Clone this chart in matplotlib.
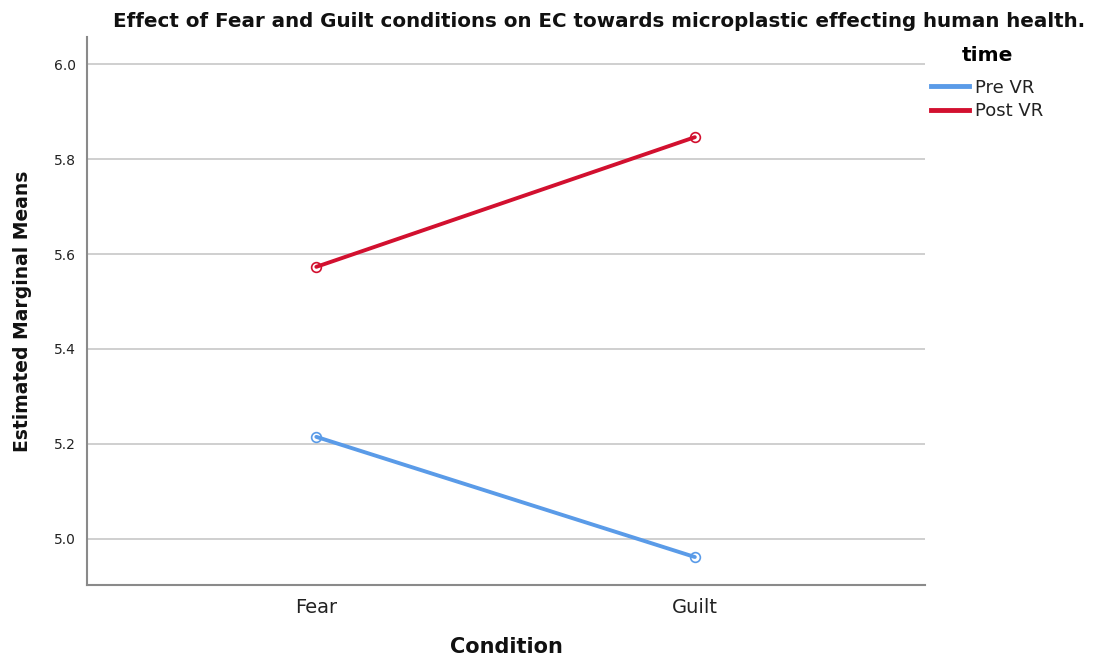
import matplotlib.pyplot as plt
from matplotlib.lines import Line2D

# data
conditions = ["Fear", "Guilt"]
pre_vr = [5.215, 4.962]
post_vr = [5.573, 5.846]
series_names = ["Pre VR", "Post VR"]
yticks = [5.0, 5.2, 5.4, 5.6, 5.8, 6.0]

blue = "#5a9be8"
red = "#d2102f"

fig = plt.figure(figsize=(11.12, 6.58), dpi=100)
ax = fig.add_axes([0.0782, 0.1109, 0.7536, 0.8329])

x = list(range(len(conditions)))
for vals, col in [(pre_vr, blue), (post_vr, red)]:
    ax.plot(x, vals, color=col, linewidth=2.8, solid_capstyle="round", zorder=3)
    ax.plot(x, vals, linestyle="none", marker="o", markersize=7, fillstyle="none",
            markeredgecolor=col, markeredgewidth=1.2, zorder=4)

ax.set_xlim(-0.606, 1.608)
ax.set_ylim(4.903, 6.057)
ax.set_xticks(x)
ax.set_xticklabels(conditions, fontsize=14, color="#222222")
ax.set_yticks(yticks)
ax.set_yticklabels([f"{v:.1f}" for v in yticks], fontsize=10, color="#222222")
ax.tick_params(length=0, pad=8)
ax.tick_params(axis="x", pad=9)
ax.grid(axis="y", color="#cccccc", linewidth=1.3)
ax.set_axisbelow(True)
for s in ["top", "right"]:
    ax.spines[s].set_visible(False)
for s in ["left", "bottom"]:
    ax.spines[s].set_color("#8a8a8a")
    ax.spines[s].set_linewidth(1.5)

ax.set_xlabel("Condition", fontsize=15, fontweight="bold", labelpad=15, color="#111111")
ax.set_ylabel("Estimated Marginal Means", fontsize=13.5, fontweight="bold", labelpad=16, color="#111111")

fig.text(0.1016, 0.968, "Effect of Fear and Guilt conditions on EC towards microplastic effecting human health.",
         fontsize=14.3, fontweight="bold", va="center", ha="left", color="#111111")

handles = [Line2D([0], [0], color=blue, linewidth=3.5),
           Line2D([0], [0], color=red, linewidth=3.5)]
leg = fig.legend(handles, series_names, title="time", loc="upper left",
                 bbox_to_anchor=(0.823, 0.955), frameon=False, fontsize=13,
                 handlelength=2.1, handletextpad=0.3, labelspacing=0.3,
                 title_fontproperties={"weight": "bold", "size": 14.5})
leg._legend_box.sep = 10
for t in leg.get_texts():
    t.set_color("#222222")

fig.savefig("out.png", dpi=100)
